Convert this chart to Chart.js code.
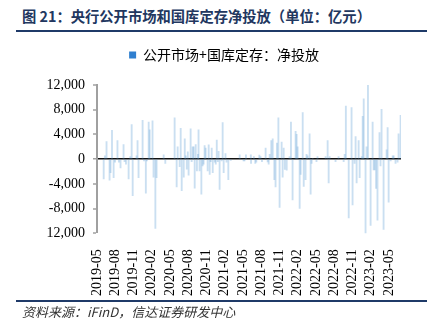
<!DOCTYPE html>
<html>
<head>
<meta charset="utf-8">
<script src="https://cdn.jsdelivr.net/npm/chart.js@4.4.0/dist/chart.umd.min.js"></script>
<style>
  body { margin: 0; width: 431px; height: 332px; background: #fff; position: relative; overflow: hidden; }
  .title { position: absolute; left: 22px; top: 5px; font: bold 14.3px "Noto Sans CJK SC"; color: #22375f; white-space: nowrap; }
  .rule { position: absolute; left: 16px; width: 411px; height: 2px; background: #1f3a68; }
  .source { position: absolute; left: 22px; top: 302px; font: italic 13px "Noto Sans CJK SC"; color: #333; white-space: nowrap; }
  #wrap { position: absolute; left: 0; top: 38px; width: 431px; height: 266px; }
</style>
</head>
<body>
<div class="title">图 21：央行公开市场和国库定存净投放（单位：亿元）</div>
<div class="rule" style="top:30px"></div>
<div id="wrap"><canvas id="chart"></canvas></div>
<div class="rule" style="top:300px"></div>
<div class="source">资料来源：iFinD，信达证券研发中心</div>
<script>
const seriesName = "公开市场+国库定存：净投放";

const tickLabels = ["2019-05", "2019-08", "2019-11", "2020-02", "2020-05", "2020-08", "2020-11",
  "2021-02", "2021-05", "2021-08", "2021-11", "2022-02", "2022-05", "2022-08", "2022-11",
  "2023-02", "2023-05"];

const dates = [
  "2019-06-04", "2019-06-10", "2019-06-18", "2019-07-03", "2019-07-08", "2019-07-15", "2019-07-23", "2019-07-30",
  "2019-08-12", "2019-08-19", "2019-08-27", "2019-09-12", "2019-09-17", "2019-09-24", "2019-10-07", "2019-10-15",
  "2019-10-22", "2019-10-27", "2019-11-16", "2019-11-21", "2019-11-26", "2019-12-16", "2019-12-23", "2020-01-02",
  "2020-01-07", "2020-01-16", "2020-01-21", "2020-02-05", "2020-02-10", "2020-02-19", "2020-02-25", "2020-03-30",
  "2020-04-08", "2020-05-24", "2020-06-04", "2020-06-09", "2020-06-19", "2020-06-24", "2020-06-29", "2020-07-09",
  "2020-07-14", "2020-07-19", "2020-07-24", "2020-07-29", "2020-08-03", "2020-08-13", "2020-08-18", "2020-08-23",
  "2020-08-28", "2020-09-03", "2020-09-08", "2020-09-14", "2020-09-19", "2020-09-22", "2020-09-27", "2020-10-06",
  "2020-10-12", "2020-10-17", "2020-10-22", "2020-10-27", "2020-11-07", "2020-11-12", "2020-11-17", "2020-11-22",
  "2020-11-27", "2020-12-02", "2020-12-12", "2020-12-17", "2020-12-22", "2020-12-27", "2021-01-01", "2021-01-06",
  "2021-01-16", "2021-01-21", "2021-01-26", "2021-02-05", "2021-02-10", "2021-02-19", "2021-03-01", "2021-04-15",
  "2021-05-04", "2021-05-09", "2021-05-16", "2021-06-10", "2021-06-11", "2021-06-25", "2021-07-02", "2021-07-07",
  "2021-07-22", "2021-07-28", "2021-08-05", "2021-08-23", "2021-09-03", "2021-09-08", "2021-09-13", "2021-09-21",
  "2021-09-28", "2021-10-06", "2021-10-12", "2021-10-19", "2021-10-26", "2021-11-02", "2021-11-12", "2021-11-17",
  "2021-11-22", "2021-11-28", "2021-12-07", "2021-12-21", "2021-12-28", "2022-01-06", "2022-01-21", "2022-01-26",
  "2022-02-01", "2022-02-11", "2022-02-16", "2022-02-26", "2022-03-01", "2022-03-10", "2022-03-15", "2022-03-20",
  "2022-03-30", "2022-04-05", "2022-04-10", "2022-04-15", "2022-05-04", "2022-05-09", "2022-06-19", "2022-06-29",
  "2022-07-04", "2022-07-09", "2022-08-08", "2022-08-23", "2022-09-18", "2022-09-23", "2022-09-29", "2022-10-13",
  "2022-10-27", "2022-11-02", "2022-11-12", "2022-11-17", "2022-11-22", "2022-12-02", "2022-12-07", "2022-12-17",
  "2022-12-22", "2022-12-27", "2023-01-06", "2023-01-11", "2023-01-18", "2023-02-01", "2023-02-11", "2023-02-16",
  "2023-02-21", "2023-02-28", "2023-03-05", "2023-03-15", "2023-03-20", "2023-03-25", "2023-04-05", "2023-04-20",
  "2023-04-25", "2023-04-30", "2023-05-10", "2023-05-20", "2023-05-25", "2023-06-04", "2023-06-14", "2023-06-19",
  "2023-06-29"
];

const netInjection = [
  -3200, 550, 2850, -3400, -2200, 4650, -3000, -500,
  3000, -500, -1400, 2350, -400, -800, -3200, 400,
  5600, -5900, 550, 3000, -3000, 6300, -300, -5500,
  -300, 6000, 4750, 6200, -2900, -11200, -3000, 700,
  -700, 6700, -4500, 2000, -1200, 5000, -5100, -2900,
  3300, 550, -1600, 1200, -2600, 4900, -400, 2000,
  2000, -4700, 2350, -1900, 800, 4750, -1900, -5650,
  -1100, -800, 2200, 1800, -1900, 2300, -2450, -400,
  1800, -2200, -500, -800, 3100, -400, 1250, -4900,
  -300, 5900, -2200, 900, -500, -3300, -200, 700,
  -300, -300, 700, 700, -700, 400, -700, -500,
  650, 400, -400, 1800, -450, -800, 800, 3000,
  3300, -3300, -4500, 2600, 6700, -7800, 2750, -2900,
  1800, -1650, -1800, 400, 6000, -6600, 4500, 4000,
  2000, -7950, -2450, 7550, -4400, -3300, 800, 550,
  4100, -5650, -700, 150, -400, 400, 400, 3000,
  -3850, 400, -400, 400, -400, 800, 8600, -9500,
  8350, -7400, -700, 3650, -3850, 3000, -3000, 400,
  6950, 9750, -12200, 2000, 12050, -10700, 6000, -1750,
  -1750, -4750, -9850, 4300, -1100, 8050, -11350, 1500,
  5100, -6950, -300, 550, 550, -700, -500, 4100,
  7100
];

// months elapsed since 2019-05-01
function monthIndex(d) {
  const [y, m, day] = d.split("-").map(Number);
  return (y - 2019) * 12 + (m - 5) + (day - 1) / 30;
}

const points = dates.map((d, i) => ({ x: monthIndex(d), y: netInjection[i] }));

const serif = "'Liberation Serif', 'Times New Roman', serif";

new Chart(document.getElementById("chart"), {
  type: "bar",
  data: {
    datasets: [{
      label: seriesName,
      data: points,
      backgroundColor: "rgba(91, 155, 213, 0.32)",
      barThickness: 1.2
    }]
  },
  options: {
    responsive: true,
    maintainAspectRatio: false,
    animation: false,
    layout: { padding: { left: 47, right: 30, top: 0, bottom: 0 } },
    plugins: {
      tooltip: { enabled: false },
      legend: {
        labels: {
          font: { family: "'Noto Sans CJK SC'", size: 14 },
          color: "#222",
          boxWidth: 7,
          boxHeight: 7,
          generateLabels: () => [{ text: seriesName, fillStyle: "#2f7fcf", strokeStyle: "#2f7fcf", lineWidth: 0 }]
        }
      }
    },
    scales: {
      x: {
        type: "linear",
        min: 0,
        max: 50,
        offset: false,
        grid: { display: false },
        border: { display: false },
        afterBuildTicks: s => { s.ticks = tickLabels.map((_, i) => ({ value: i * 3 })); },
        ticks: {
          autoSkip: false,
          minRotation: 90,
          maxRotation: 90,
          padding: 8,
          color: "#000",
          font: { family: serif, size: 14 },
          callback: v => tickLabels[Math.round(v / 3)]
        }
      },
      y: {
        min: -12000,
        max: 12000,
        afterFit: s => { s.width = 50; },
        border: { color: "#a0a0a0", width: 2 },
        grid: {
          color: c => c.tick.value === 0 ? "#111" : "rgba(0,0,0,0)",
          lineWidth: c => c.tick.value === 0 ? 1.5 : 0,
          tickColor: "#a0a0a0",
          tickWidth: 1.5,
          tickLength: 4
        },
        ticks: {
          stepSize: 4000,
          padding: 8,
          color: "#000",
          font: { family: serif, size: 14 },
          callback: v => v.toLocaleString("en-US")
        }
      }
    }
  },
  plugins: [{
    id: "legendGap",
    beforeInit(chart) {
      const fit = chart.legend.fit;
      chart.legend.fit = function () { fit.call(this); this.height += 13; };
    }
  }]
});
</script>
</body>
</html>
